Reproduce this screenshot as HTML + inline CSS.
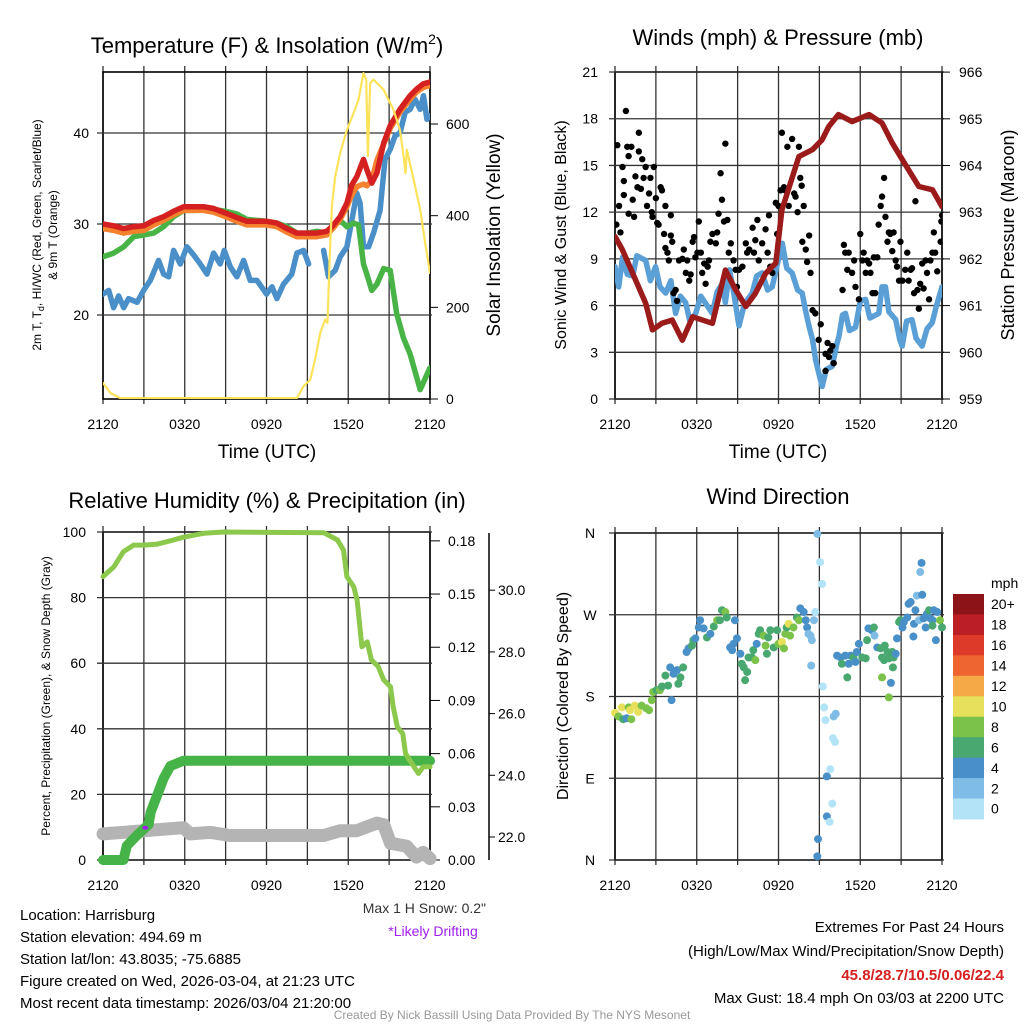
<!DOCTYPE html>
<html><head><meta charset="utf-8"><style>
body{margin:0;background:#fff;}
svg{display:block;font-family:"Liberation Sans",Arial,sans-serif;}
</style></head><body>
<svg id="c" width="1024" height="1024" viewBox="0 0 1024 1024" xmlns="http://www.w3.org/2000/svg">
<defs>
<clipPath id="cp1"><rect x="103" y="72" width="327" height="327"/></clipPath>
<clipPath id="cp2"><rect x="615" y="72" width="327" height="327"/></clipPath>
<clipPath id="cp3"><rect x="103" y="532" width="327" height="328"/></clipPath>
</defs>
<g id="g1"></g>
<g id="g2"></g>
<g id="g3"></g>
<g id="g4"></g>
<g font-size="22" text-anchor="middle">
<text x="267" y="53">Temperature (F) &amp; Insolation (W/m<tspan font-size="14" dy="-9">2</tspan><tspan dy="9">)</tspan></text>
<text x="778" y="45">Winds (mph) &amp; Pressure (mb)</text>
<text x="267" y="508">Relative Humidity (%) &amp; Precipitation (in)</text>
<text x="778" y="504">Wind Direction</text>
</g>
<g font-size="19" text-anchor="middle">
<text x="267" y="458">Time (UTC)</text>
<text x="778" y="458">Time (UTC)</text>
</g>
<text transform="translate(41,235) rotate(-90)" font-size="12" text-anchor="middle">2m T, T<tspan font-size="9" dy="3">d</tspan><tspan dy="-3">, HI/WC (Red, Green, Scarlet/Blue)</tspan></text>
<text transform="translate(57,235) rotate(-90)" font-size="12" text-anchor="middle">&amp; 9m T (Orange)</text>
<text transform="translate(500,235) rotate(-90)" font-size="19" text-anchor="middle">Solar Insolation (Yellow)</text>
<text transform="translate(566,235) rotate(-90)" font-size="16" text-anchor="middle">Sonic Wind &amp; Gust (Blue, Black)</text>
<text transform="translate(1014,235) rotate(-90)" font-size="18" text-anchor="middle">Station Pressure (Maroon)</text>
<text transform="translate(50,696) rotate(-90)" font-size="12" text-anchor="middle">Percent, Precipitation (Green), &amp; Snow Depth (Gray)</text>
<text transform="translate(568,696) rotate(-90)" font-size="16" text-anchor="middle">Direction (Colored By Speed)</text>
<g font-size="15">
<text x="20" y="920">Location: Harrisburg</text>
<text x="20" y="942">Station elevation: 494.69 m</text>
<text x="20" y="964">Station lat/lon: 43.8035; -75.6885</text>
<text x="20" y="986">Figure created on Wed, 2026-03-04, at 21:23 UTC</text>
<text x="20" y="1008">Most recent data timestamp: 2026/03/04 21:20:00</text>
</g>
<text x="486" y="913" font-size="14" fill="#333" text-anchor="end">Max 1 H Snow: 0.2"</text>
<text x="433" y="936" font-size="14" fill="#a020f0" text-anchor="middle">*Likely Drifting</text>
<g font-size="15" text-anchor="end">
<text x="1004" y="932">Extremes For Past 24 Hours</text>
<text x="1004" y="956">(High/Low/Max Wind/Precipitation/Snow Depth)</text>
<text x="1004" y="980" fill="#d42020" font-weight="bold">45.8/28.7/10.5/0.06/22.4</text>
<text x="1004" y="1003">Max Gust: 18.4 mph On 03/03 at 2200 UTC</text>
</g>
<text x="512" y="1019" font-size="12" fill="#999" text-anchor="middle">Created By Nick Bassill Using Data Provided By The NYS Mesonet</text>
</svg>
<script>
// ---------- DATA ----------
const xTickLabels = ["2120","0320","0920","1520","2120"];
const tempTicks = [20,30,40];
const solarTicks = [0,200,400,600];
const redHours = [0,0.78,1.52,2.25,3.0,3.72,4.45,5.18,5.92,6.65,7.38,8.12,9.0,9.83,10.56,11.3,12.0,12.76,13.5,14.23,14.96,15.7,16.43,16.92,17.4,17.9,18.26,18.63,19.12,19.36,19.73,20.1,20.6,21.08,21.8,22.54,23.0,23.5,24];
const redTemp = [30.0,29.8,29.5,29.7,29.8,30.4,30.8,31.4,31.9,31.9,31.9,31.7,31.2,30.7,30.3,30.3,30.3,30.1,29.5,29.0,29.0,29.0,29.2,29.9,30.8,32.3,34.3,35.2,37.1,36.0,34.5,35.6,38.9,40.8,42.6,44.1,44.8,45.4,45.6];
const orangeTemp = [29.5,29.3,29.0,29.2,29.3,29.9,30.4,31.0,31.5,31.5,31.5,31.3,30.8,30.3,29.9,29.9,29.9,29.7,29.1,28.6,28.6,28.6,28.8,29.6,30.5,31.9,33.2,34.1,34.4,34.2,34.8,37.0,38.8,40.5,42.3,43.7,44.5,45.0,45.2];
const greenHours = [0,0.78,1.52,2.25,3.0,3.72,4.45,5.18,5.92,6.65,7.38,8.12,9.0,9.83,10.56,11.3,12.0,12.76,13.5,14.23,14.96,15.7,16.43,16.92,17.4,17.9,18.39,18.75,19.12,19.36,19.73,20.1,20.6,21.08,21.56,22.05,22.54,23.28,24];
const greenTemp = [26.4,26.8,27.5,28.6,28.8,29.0,29.7,30.8,31.5,31.5,31.6,31.6,31.4,31.1,30.5,30.4,30.3,30.1,29.7,29.0,29.0,29.2,29.0,29.7,30.4,29.7,30.1,29.9,25.6,24.5,22.7,23.4,25.1,24.9,20.1,17.5,15.7,11.8,14.2];
const blueHours = [0,0.42,0.78,1.15,1.52,1.88,2.5,2.98,3.47,4.08,4.45,4.82,5.18,5.67,6.16,6.65,7.14,7.63,8.12,8.6,8.9,9.34,9.83,10.32,10.8,11.3,12.0,12.4,12.76,13.25,13.86,14.23,14.72,15.09,15.6,16.19,16.55,17.04,17.41,17.9,18.26,18.63,18.87,19.12,19.49,19.85,20.34,20.7,21.08,21.44,21.8,22.18,22.54,22.9,23.28,23.52,23.77,24];
const blueTemp = [22.3,22.7,20.8,22.1,20.8,21.8,21.4,22.7,23.8,26.0,24.5,24.2,27.1,25.6,27.5,26.6,25.6,24.5,26.8,25.6,27.1,25.3,24.2,26.0,23.8,23.8,22.3,23.1,21.8,23.4,24.5,26.8,27.1,25.6,null,27.1,24.2,24.9,26.4,27.5,30.4,33.4,32.3,27.5,27.5,29.0,31.5,37.1,38.2,39.7,40.0,42.3,42.6,43.7,42.6,44.1,41.5,41.9];
const solarHours = [0,0.54,1.27,14.23,14.72,15.21,15.57,15.94,16.3,16.48,16.63,16.8,17.04,17.41,17.9,18.39,18.75,19.12,19.32,19.44,19.61,19.85,20.59,21.32,21.8,22.1,22.2,22.3,22.8,23.28,23.65,24];
const solarVals = [35,13,2,2,28,42,86,144,173,166,304,420,486,537,587,624,653,711,697,530,689,697,675,631,587,522,493,544,478,413,340,275];

const windTicks = [0,3,6,9,12,15,18,21];
const presTicks = [959,960,961,962,963,964,965,966];
const presHours = [0,0.55,1.3,2.25,2.75,3.45,4.2,4.95,5.7,7.15,8.1,8.85,9.6,10.3,11.05,11.8,12.25,13.5,14.5,15.2,15.7,16.4,17.4,18.65,19.6,20.35,21.1,22.3,23.3,24];
const presVals = [962.48,962.19,961.69,961.05,960.48,960.62,960.69,960.26,960.76,960.62,961.76,961.34,960.98,961.26,961.69,961.91,963.05,964.19,964.34,964.55,964.84,965.09,964.94,965.09,964.91,964.48,964.12,963.55,963.48,963.12];
const sonicHours = [0,0.27,0.55,0.9,1.3,1.6,2.25,2.6,2.98,3.3,3.72,4.1,4.45,4.8,5.18,5.5,5.92,6.3,7.14,7.5,7.87,8.1,8.4,8.7,9.1,9.5,10.07,10.4,10.8,11.2,11.54,11.9,12.28,12.6,13.0,13.4,13.74,14.0,14.23,14.5,14.72,15.0,15.21,15.5,15.94,16.3,16.43,16.7,16.92,17.2,17.65,18.0,18.39,18.7,19.36,19.6,19.85,20.1,20.6,20.9,21.08,21.4,21.8,22.1,22.54,22.9,23.28,23.6,24];
const sonicVals = [8.5,7.2,9.1,8.0,7.9,9.2,8.9,7.6,8.5,7.2,6.8,7.6,5.5,6.6,6.2,5.0,5.5,6.6,5.5,6.9,7.4,6.2,8.3,6.9,4.7,6.1,6.8,7.9,8.1,7.0,7.2,8.6,10.0,8.4,8.1,7.0,6.8,5.6,4.7,3.8,2.5,1.5,0.8,1.9,2.1,3.6,4.0,5.4,5.5,4.4,4.6,6.3,6.4,5.2,5.5,7.2,7.2,5.6,5.1,3.8,3.4,5.0,5.1,3.9,3.4,4.5,4.9,6.0,7.2];
const gustHours = [0.17,0.1,0.4,0.3,0.55,0.65,0.65,0.8,0.9,1.0,1.0,1.2,1.3,1.4,1.5,1.65,1.75,1.75,1.9,2.0,2.1,2.25,2.35,2.5,2.6,2.7,2.75,2.85,3.0,3.1,3.2,3.35,3.45,3.6,3.7,3.7,3.85,3.95,4.1,4.1,4.2,4.3,4.45,4.55,4.7,4.95,5.05,5.2,5.3,5.45,5.55,5.7,5.8,5.9,6.05,6.15,6.3,6.4,6.55,6.65,6.8,6.9,7.0,7.15,7.4,7.5,7.6,7.75,7.85,8.0,8.1,8.25,8.35,8.5,8.7,8.85,8.95,9.1,9.35,9.6,9.7,9.85,10.1,10.2,10.3,10.45,10.55,10.8,11.05,11.2,11.3,11.4,11.55,11.8,11.9,12.0,12.15,12.25,12.4,12.5,12.65,12.75,13.0,13.15,13.25,13.4,13.5,13.6,13.7,13.75,13.85,14.0,14.1,14.25,14.35,14.5,14.7,15.1,14.95,15.45,15.6,15.7,15.8,15.95,16.05,15.45,16.7,16.8,16.9,17.05,17.15,17.4,17.55,17.65,17.9,18.0,18.15,18.25,18.4,18.5,18.65,18.75,18.9,19.0,19.1,19.25,19.35,19.5,19.6,19.75,19.85,20.0,20.1,20.2,20.35,20.45,20.6,20.7,20.85,20.95,21.1,21.3,21.45,21.55,21.7,21.8,21.95,22.05,22.2,22.3,22.4,22.55,22.65,22.8,22.9,23.05,23.15,23.3,23.4,23.5,23.65,23.9,24.0,23.95];
const gustVals = [16.3,11.2,10.7,12.4,14.9,14.0,13.1,18.5,16.2,15.6,11.9,16.2,12.8,11.7,14.3,13.6,17.1,15.9,13.5,15.4,14.2,14.9,12.4,13.2,14.2,12.0,11.7,14.9,12.9,11.3,11.2,13.6,13.4,10.6,12.4,9.7,9.4,8.9,10.5,11.8,10.1,6.8,7.0,6.3,8.9,9.0,9.6,8.1,8.9,7.6,8.0,10.1,10.4,9.1,9.4,11.4,9.4,8.1,8.7,7.4,8.5,8.9,10.1,10.6,10.0,10.7,11.9,14.5,12.8,11.4,16.4,11.5,9.4,10.0,8.9,8.3,7.2,8.3,8.5,10.0,9.4,9.6,11.0,9.4,10.2,11.5,8.9,10.0,10.9,9.4,11.8,8.5,8.1,12.6,10.6,12.4,13.4,17.1,13.6,13.4,16.2,12.4,16.7,13.2,13.0,12.0,16.2,14.2,13.7,10.1,12.4,9.6,8.8,10.5,8.1,5.7,5.5,4.8,3.8,2.9,3.6,2.7,3.1,3.4,2.3,1.8,7.0,9.9,9.4,8.3,9.4,8.1,8.9,7.2,6.4,10.6,8.9,9.4,8.1,8.9,8.7,8.1,6.8,9.1,6.8,9.1,11.2,12.4,13.0,14.2,11.7,10.1,10.7,10.6,9.5,10.7,8.9,8.5,7.6,10.1,7.6,8.3,9.4,7.6,8.3,8.4,6.8,12.7,7.0,5.8,7.4,8.7,7.1,8.9,8.1,6.4,8.9,9.4,10.7,9.4,8.2,10.1,11.8,11.4];

const rhTicks = [0,20,40,60,80,100];
const precipTicks = ["0.00","0.03","0.06","0.09","0.12","0.15","0.18"];
const snowTicks = ["22.0","24.0","26.0","28.0","30.0"];
const rhHours = [0,0.8,1.5,2.25,3.0,4.0,4.9,5.9,7.4,8.85,16.2,17.2,17.65,17.9,18.4,18.65,19.0,19.4,19.7,20.2,20.6,21.1,21.3,21.6,22.0,22.2,22.5,23.15,23.5,24];
const rhVals = [86.4,89.4,94,96,96,96.3,97.3,98.4,99.6,100,99.8,97.6,94.5,86.4,83.3,79.3,65,66.5,61,59,54.9,52.8,46.7,40.6,38.5,32.5,30.5,26.4,28.4,28.4];
const precipHours = [0,1.5,1.75,2.5,3.35,3.5,4.0,4.45,4.95,5.9,24];
const precipVals = [0,0,0.008,0.014,0.02,0.027,0.037,0.046,0.053,0.056,0.056];
const snowHours = [0,5.9,6.4,7.9,9.35,16.2,17.4,18.6,20.1,20.6,21.1,22.3,23.0,23.5,24];
const snowVals = [22.1,22.3,22.1,22.15,22.05,22.05,22.2,22.2,22.45,22.4,21.8,21.7,21.35,21.5,21.3];

const dirLabels = ["N","E","S","W","N"];
const dirHours = [0.0,0.25,0.5,0.6,0.85,1.0,1.1,1.2,1.45,1.7,1.95,2.3,2.5,2.7,2.8,3.05,3.3,3.45,3.7,3.9,4.05,4.15,4.3,4.55,4.65,4.8,5.0,5.25,5.4,5.65,5.75,5.9,6.15,6.25,6.5,6.75,7.0,7.25,7.5,7.7,7.85,8.1,8.2,8.45,8.6,8.7,8.8,8.95,9.2,9.3,9.45,9.55,9.7,9.8,10.05,10.15,10.3,10.4,10.55,10.65,10.9,11.05,11.15,11.25,11.4,11.65,11.9,12.0,12.25,12.4,12.5,12.6,12.75,12.85,13.1,13.35,13.5,13.6,13.85,14.0,14.1,14.2,14.35,14.45,14.6,14.7,14.4,14.85,15.05,15.2,15.25,15.35,15.45,16.05,16.2,16.0,16.15,15.8,15.55,15.95,15.55,15.75,14.9,14.85,16.3,16.55,16.65,16.9,17.05,17.15,17.3,17.5,17.65,17.75,17.9,18.15,18.4,18.5,18.6,18.85,19.0,19.05,19.25,19.5,19.6,19.75,19.8,20.0,20.1,20.35,20.4,20.45,20.6,19.6,20.25,20.1,20.7,20.85,20.95,21.1,21.2,21.45,21.55,21.7,21.9,21.95,22.05,22.15,22.3,22.4,22.5,22.55,22.65,22.8,22.9,23.05,23.15,23.3,23.4,23.55,23.65,23.85,24.0,23.3];
const dirDeg = [162,158,168,155,156,168,165,155,170,163,170,167,165,176,185,187,187,191,203,192,212,176,205,209,194,201,212,229,233,236,242,244,256,264,255,245,249,257,264,264,275,273,267,234,231,238,264,244,227,216,212,198,207,223,223,231,220,238,249,253,247,236,227,245,253,234,253,238,240,233,249,256,260,247,256,267,264,277,273,264,256,249,247,242,264,273,214,359,328,304,191,168,154,158,161,134,130,100,92,62,48,42,23,4,225,223,216,225,201,216,225,223,218,229,238,223,222,242,255,253,256,247,234,233,223,220,236,229,222,229,212,223,227,201,195,179,244,262,264,256,262,267,282,284,246,260,275,291,264,317,327,292,266,256,271,275,266,264,275,242,273,264,256,258];
const dirSpeed = [10.5,8.5,10.5,7,5,9,10.5,9,10.5,10.5,8,9,9,8.5,9,7,8,7,7,6.5,5,4.5,5,5,7,7,6.5,5,5,6.5,7,5,5,5,4.5,7,5,7,8,7,7,8,7,5,5,5,5,5,5,7,7,7,7,7,7,7,8,5,7,7,9,8,7,7,7,7,7,8,10.5,8,9,7,10.5,8,9,7,9,5,5,5,5,3,3,3,3,1.5,3,2,1.5,1.5,1.5,1.5,1.5,3,3,1.5,1.5,1.5,5,1.5,4.5,1.5,4.5,4.5,5,5,7,5,7,5,5,7,5,5,5,7,7,7,5,5,7,3,5,7,7,7,7,7,7,7,7,7,5,8,5,8,5,7,7,5,5,5,5,5,5,5,5,3,3,3,5,5,5,5,5,7,5,5,5,5,5,8,7,7];
const speedBins = ["0","2","4","6","8","10","12","14","16","18","20+"];
const speedColors = ["#b3e3f7","#80bde6","#4a90c8","#48a870","#7bc24a","#e6e05a","#f5a947","#ef6530","#de3a2a","#bb1e25","#8c1419"];

// ---------- DRAW ----------
const NS="http://www.w3.org/2000/svg";
function mk(parent,tag,attrs,txt){const e=document.createElementNS(NS,tag);for(const k in attrs)e.setAttribute(k,attrs[k]);if(txt!==undefined)e.textContent=txt;parent.appendChild(e);return e;}
function pathFrom(xs,ys,fx,fy){let d="",pen=false;for(let i=0;i<xs.length;i++){if(ys[i]===null){pen=false;continue;}d+=(pen?"L":"M")+fx(xs[i]).toFixed(1)+","+fy(ys[i]).toFixed(1);pen=true;}return d;}
function frame(g,L,T,W,H){
  // grid verticals every 3 h
  for(let h=0;h<=24;h+=3){const x=L+h*W/24;
    const ln=mk(g,"line",{x1:x,x2:x,y1:T-6,y2:T+H+5,stroke:"#333","stroke-width":1.3});
    
    }
  const r=mk(g,"rect",{x:L,y:T,width:W,height:H,fill:"none",stroke:"#000","stroke-width":1.6});
  
  
}
function hline(g,L,W,y){const ln=mk(g,"line",{x1:L-6,x2:L+W+2,y1:y,y2:y,stroke:"#333","stroke-width":1.3});
  
  }
function xLabels(g,L,W,y){xTickLabels.forEach((t,i)=>{const e=mk(g,"text",{x:L+i*6*W/24,y:y,"font-size":14,"text-anchor":"middle"},t);
  
  });}

// Panel 1
(function(){
  const g=document.getElementById("g1");const L=103,T=72,W=327,H=327;
  const X=h=>L+h*W/24, YT=v=>315-(v-20)*9.1, YS=w=>399-w*0.4583;
  frame(g,L,T,W,H);
  tempTicks.forEach(v=>{hline(g,L,W,YT(v));const t=mk(g,"text",{x:89,y:YT(v)+5,"font-size":14,"text-anchor":"end"},v);
    
    });
  solarTicks.forEach(v=>{mk(g,"line",{x1:430,x2:438,y1:YS(v),y2:YS(v),stroke:"#000"});const t=mk(g,"text",{x:446,y:YS(v)+5,"font-size":14},v);
    
    });
  xLabels(g,L,W,429);
  const c=mk(g,"g",{"clip-path":"url(#cp1)",fill:"none","stroke-linejoin":"round","stroke-linecap":"round"});
  const s=[[blueHours,blueTemp,"#4a8fc8","dewpoint-line"],[greenHours,greenTemp,"#48b446","heat-index-line"],[redHours,orangeTemp,"#f4812e","temp-9m-line"],[redHours,redTemp,"#d42020","temp-2m-line"]];
  s.forEach(a=>{const p=mk(c,"path",{d:pathFrom(a[0],a[1],X,YT),stroke:a[2],"stroke-width":5.5});
    
    });
  const y=mk(c,"path",{d:pathFrom(solarHours,solarVals,X,YS),stroke:"#fde35a","stroke-width":2.2});
  
  
})();

// Panel 2
(function(){
  const g=document.getElementById("g2");const L=615,T=72,W=327,H=327;
  const X=h=>L+h*W/24, YW=v=>399-v*15.57, YP=p=>399-(p-959)*46.7;
  frame(g,L,T,W,H);
  windTicks.forEach(v=>{hline(g,L,W,YW(v));const t=mk(g,"text",{x:598,y:YW(v)+5,"font-size":14,"text-anchor":"end"},v);
    
    });
  presTicks.forEach(v=>{mk(g,"line",{x1:942,x2:950,y1:YP(v),y2:YP(v),stroke:"#000"});const t=mk(g,"text",{x:959,y:YP(v)+5,"font-size":14},v);
    
    });
  xLabels(g,L,W,429);
  const c=mk(g,"g",{"clip-path":"url(#cp2)",fill:"none","stroke-linejoin":"round","stroke-linecap":"round"});
  const b=mk(c,"path",{d:pathFrom(sonicHours,sonicVals,X,YW),stroke:"#5a9fd6","stroke-width":5.5});
  
  
  gustHours.forEach((h,i)=>{const d=mk(c,"circle",{cx:X(h),cy:YW(gustVals[i]),r:3.2,fill:"#000"});
    
    });
  const p=mk(c,"path",{d:pathFrom(presHours,presVals,X,YP),stroke:"#9b1b1b","stroke-width":5.5});
  
  
})();

// Panel 3
(function(){
  const g=document.getElementById("g3");const L=103,T=532,W=327,H=328;
  const X=h=>L+h*W/24, YR=v=>860-v*3.28, YPr=p=>860-p*1773, YSn=s=>837-(s-22)*30.85;
  frame(g,L,T,W,H);
  rhTicks.forEach(v=>{hline(g,L,W,YR(v));const t=mk(g,"text",{x:86,y:YR(v)+5,"font-size":14,"text-anchor":"end"},v);
    
    });
  precipTicks.forEach(v=>{const y=YPr(+v);mk(g,"line",{x1:430,x2:440,y1:y,y2:y,stroke:"#000"});const t=mk(g,"text",{x:448,y:y+5,"font-size":14},v);
    
    });
  mk(g,"line",{x1:489,x2:489,y1:533,y2:860,stroke:"#000","stroke-width":1.5});
  snowTicks.forEach(v=>{const y=YSn(+v);mk(g,"line",{x1:489,x2:495,y1:y,y2:y,stroke:"#000"});const t=mk(g,"text",{x:498,y:y+5,"font-size":14},v);
    
    });
  xLabels(g,L,W,890);
  const c=mk(g,"g",{fill:"none","stroke-linejoin":"round","stroke-linecap":"round"});
  const s=mk(c,"path",{d:pathFrom(snowHours,snowVals,X,YSn),stroke:"#b4b4b4","stroke-width":13});
  
  
  const pr=mk(c,"path",{d:pathFrom(precipHours,precipVals,X,YPr),stroke:"#45b347","stroke-width":10});
  
  
  const rh=mk(c,"path",{d:pathFrom(rhHours,rhVals,X,YR),stroke:"#8cc84b","stroke-width":5});
  
  
  const pd=mk(g,"ellipse",{cx:X(3.1),cy:YSn(22.3),rx:3,ry:2,fill:"#a020f0"});
  
  
})();

// Panel 4
(function(){
  const g=document.getElementById("g4");const L=615,T=533,W=327,H=327;
  const X=h=>L+h*W/24, YD=d=>860-d*H/360;
  frame(g,L,T,W,H);
  dirLabels.forEach((l,i)=>{const y=YD(i*90);hline(g,L,W,y);const t=mk(g,"text",{x:590,y:y+5,"font-size":14,"text-anchor":"middle"},l);
    
    });
  xLabels(g,L,W,890);
  dirHours.forEach((h,i)=>{const bin=Math.min(10,Math.floor(dirSpeed[i]/2));
    const d=mk(g,"circle",{cx:X(h),cy:YD(dirDeg[i]),r:4,fill:speedColors[bin]});
    
    });
  const cb=mk(g,"g",{});
  
  
  const top=594,bh=20.45;
  for(let i=0;i<11;i++){const k=10-i;mk(cb,"rect",{x:953,y:top+i*bh,width:31,height:bh+0.5,fill:speedColors[k]});
    const t=mk(cb,"text",{x:991,y:top+i*bh+bh/2+5,"font-size":14},speedBins[k]);
    
    }
  const u=mk(g,"text",{x:991,y:588,"font-size":14},"mph");
  
  
})();
</script>
</body></html>
